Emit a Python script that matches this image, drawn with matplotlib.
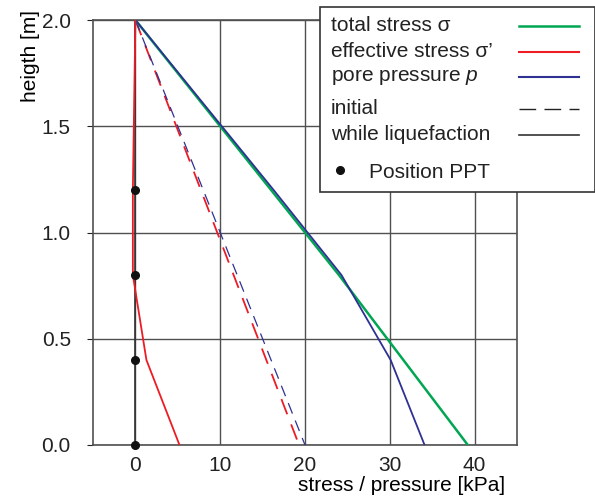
import matplotlib
matplotlib.use("Agg")
import matplotlib.pyplot as plt
from matplotlib.lines import Line2D
from matplotlib.patches import Rectangle

plt.rcParams['font.family'] = ['Liberation Sans', 'DejaVu Sans']
plt.rcParams['mathtext.fontset'] = 'custom'
plt.rcParams['mathtext.it'] = 'Liberation Sans:italic'
plt.rcParams['mathtext.rm'] = 'Liberation Sans'

# heights of the pore pressure transducers [m]
height = [2.0, 1.2, 0.8, 0.4, 0.0]
ppt_height = [1.2, 0.8, 0.4, 0.0]
ppt_x = [0, 0, 0, 0]

# while liquefaction [kPa]
total_liq = [0, 16.0, 24.0, 31.6, 39.2]
pore_liq = [0, 16.3, 24.3, 30.1, 34.1]
eff_liq = [0, -0.3, -0.3, 1.3, 5.2]

# initial (hydrostatic) [kPa]
init_height = [2.0, 0.0]
eff_init = [0, 19.3]
pore_init = [0, 20.0]

green = '#00a651'
red = '#ed1c24'
blue = '#2e3192'
grey = '#505050'
fs = 15

fig = plt.figure(figsize=(5.95, 5.0), dpi=100)
ax = fig.add_axes([93/595, 1-445/500, 424/595, 425/500])

ax.set_xlim(-5, 45)
ax.set_ylim(0, 2.0)
ax.set_xticks([0, 10, 20, 30, 40])
ax.set_yticks([0.0, 0.5, 1.0, 1.5, 2.0])
ax.set_yticklabels(['0.0', '0.5', '1.0', '1.5', '2.0'])
ax.grid(True, color=grey, lw=1)
ax.tick_params(axis='x', length=0, labelsize=fs, pad=8, colors='#222222')
ax.tick_params(axis='y', length=4, labelsize=fs, pad=12, colors='#222222', direction='out')
for s in ax.spines.values():
    s.set_color(grey)
    s.set_linewidth(1.2)

# position of PPTs
ax.plot([0, 0], [0, 2.0], color='#333333', lw=1.2, zorder=3)

# initial
ax.plot(eff_init, init_height, color=red, lw=1.3, dashes=(9, 6), zorder=4)
ax.plot(pore_init, init_height, color=blue, lw=0.9, dashes=(9, 6), zorder=4)

# while liquefaction
ax.plot(total_liq, height, color=green, lw=1.8, zorder=5)
ax.plot(pore_liq, height, color=blue, lw=1.3, zorder=6)
ax.plot(eff_liq, height, color=red, lw=1.3, zorder=6)

ax.plot(ppt_x, ppt_height, 'o', color='#111111', ms=5.5, zorder=7, clip_on=False)

ax.set_xlabel('stress / pressure [kPa]', fontsize=fs, loc='right')
ax.xaxis.set_label_coords(0.972, -0.072)
ax.set_ylabel('heigth [m]', fontsize=fs, loc='top')
ax.yaxis.set_label_coords(-0.125, 1.023)

# legend drawn by hand
def fx(px):
    return px / 595

def fy(py):
    return 1 - py / 500

fig.patches.append(Rectangle((fx(320), fy(192)), fx(595) - fx(320), fy(7) - fy(192),
                             transform=fig.transFigure, fill=True, facecolor='white',
                             edgecolor='#333333', lw=1.2, zorder=10))

rows = [
    ('total stress σ', 25.5, dict(color=green, lw=1.8)),
    ('effective stress σ’', 51.5, dict(color=red, lw=1.5)),
    ('pore pressure $\\it{p}$', 77, dict(color=blue, lw=1.5)),
    ('initial', 109, dict(color='#222222', lw=1.0, dashes=(12, 6))),
    ('while liquefaction', 134.5, dict(color='#333333', lw=1.2)),
]
for label, py, style in rows:
    fig.text(fx(331), fy(py), label, fontsize=fs, va='center', ha='left',
             color='#222222', zorder=11)
    fig.lines.append(Line2D([fx(519), fx(579)], [fy(py), fy(py)],
                            transform=fig.transFigure, zorder=11, **style))

fig.lines.append(Line2D([fx(340)], [fy(170)], marker='o', color='#111111', ms=5.5,
                        transform=fig.transFigure, zorder=11))
fig.text(fx(369), fy(172), 'Position PPT', fontsize=fs, va='center', ha='left',
         color='#222222', zorder=11)

fig.savefig('out.png', dpi=100)
